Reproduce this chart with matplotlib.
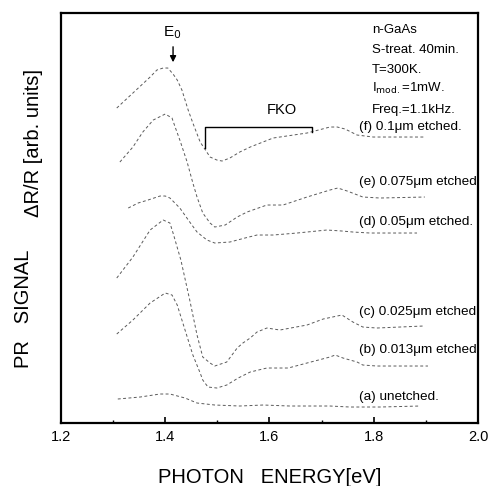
import matplotlib
matplotlib.use("Agg")
import matplotlib.pyplot as plt
import matplotlib.ticker as mticker

plt.rcParams['font.family'] = ['Liberation Sans', 'DejaVu Sans']

# PR spectra, photon energy [eV] vs signal [arb. units], offset per sample
energy_f = [1.307, 1.338, 1.371, 1.384, 1.396, 1.405, 1.415, 1.423, 1.432, 1.444, 1.453, 1.467, 1.486,
            1.499, 1.509, 1.524, 1.543, 1.563, 1.607, 1.672, 1.716, 1.730, 1.745, 1.768, 1.799, 1.850, 1.898]
signal_f = [31.5, 33.0, 34.6, 35.3, 35.5, 35.5, 34.9, 34.3, 33.3, 31.3, 30.0, 28.1, 26.6,
            26.3, 26.2, 26.5, 27.1, 27.6, 28.5, 29.0, 29.6, 29.6, 29.4, 28.8, 28.6, 28.6, 28.6]

energy_e = [1.313, 1.338, 1.357, 1.377, 1.400, 1.413, 1.419, 1.428, 1.442, 1.453, 1.461, 1.472, 1.486,
            1.495, 1.515, 1.538, 1.557, 1.595, 1.626, 1.672, 1.716, 1.731, 1.749, 1.779, 1.812, 1.898]
signal_e = [26.1, 27.6, 29.1, 30.3, 30.9, 30.5, 29.6, 28.3, 26.1, 24.0, 22.6, 21.0, 20.0,
            19.6, 19.8, 20.6, 21.1, 21.8, 21.8, 22.6, 23.3, 23.5, 23.2, 22.6, 22.5, 22.6]

energy_d = [1.329, 1.348, 1.367, 1.390, 1.400, 1.409, 1.428, 1.447, 1.461, 1.480, 1.495, 1.524, 1.553,
            1.576, 1.607, 1.653, 1.710, 1.739, 1.760, 1.793, 1.883]
signal_d = [21.5, 22.0, 22.3, 22.7, 22.7, 22.5, 21.5, 20.1, 19.1, 18.3, 18.0, 18.1, 18.5,
            18.8, 18.8, 19.0, 19.3, 19.2, 19.1, 19.0, 19.0]

energy_c = [1.307, 1.338, 1.371, 1.396, 1.409, 1.415, 1.430, 1.447, 1.461, 1.472, 1.486, 1.495, 1.518,
            1.538, 1.549, 1.563, 1.576, 1.595, 1.620, 1.672, 1.703, 1.739, 1.760, 1.779, 1.806, 1.895]
signal_c = [14.5, 16.6, 19.3, 20.3, 20.0, 19.0, 16.3, 12.3, 8.8, 6.6, 6.0, 5.7, 6.1,
            7.5, 8.0, 8.5, 9.1, 9.5, 9.3, 9.8, 10.4, 10.8, 10.1, 9.6, 9.5, 9.7]

energy_b = [1.307, 1.338, 1.371, 1.400, 1.413, 1.423, 1.438, 1.453, 1.467, 1.472, 1.482, 1.499, 1.518,
            1.540, 1.563, 1.595, 1.636, 1.672, 1.716, 1.726, 1.741, 1.768, 1.779, 1.806, 1.904]
signal_b = [8.9, 10.3, 12.0, 13.0, 12.8, 11.8, 9.3, 6.8, 5.0, 4.3, 3.6, 3.5, 3.8,
            4.5, 5.1, 5.5, 5.5, 6.0, 6.6, 6.8, 6.5, 6.1, 5.8, 5.7, 5.7]

energy_a = [1.309, 1.352, 1.390, 1.409, 1.438, 1.461, 1.495, 1.543, 1.588, 1.639, 1.716, 1.754, 1.812, 1.889]
signal_a = [2.4, 2.6, 2.9, 2.9, 2.5, 2.0, 1.8, 1.7, 1.8, 1.7, 1.7, 1.6, 1.6, 1.7]

curves = [(energy_f, signal_f), (energy_e, signal_e), (energy_d, signal_d),
          (energy_c, signal_c), (energy_b, signal_b), (energy_a, signal_a)]

labels = ["(f) 0.1\u03bcm etched.", "(e) 0.075\u03bcm etched", "(d) 0.05\u03bcm etched.",
          "(c) 0.025\u03bcm etched", "(b) 0.013\u03bcm etched", "(a) unetched."]
label_y = [29.6, 24.1, 20.1, 11.1, 7.3, 2.6]

fig = plt.figure(figsize=(4.89, 4.86), dpi=100)
ax = fig.add_axes([0.1247, 0.1296, 0.8528, 0.8436])

for en, sig in curves:
    ax.plot(en, sig, color='#5a5a5a', lw=0.7, linestyle=(0, (3, 2.5)))

for lab, ly in zip(labels, label_y):
    ax.text(1.771, ly, lab, fontsize=9.7, va='center', ha='left')

# sample / measurement conditions
info = ["n-GaAs", "S-treat. 40min.", "T=300K.", "I$_{\\mathrm{mod.}}$=1mW.", "Freq.=1.1kHz."]
info_y = [39.3, 37.3, 35.3, 33.5, 31.3]
for txt, iy in zip(info, info_y):
    ax.text(1.797, iy, txt, fontsize=9.5, va='center', ha='left')

# E0 marker
ax.text(1.413, 39.0, "E$_0$", fontsize=11, ha='center', va='center')
ax.annotate("", xy=(1.415, 35.8), xytext=(1.415, 37.9),
            arrowprops=dict(arrowstyle='-|>', color='black', lw=1.0, mutation_scale=9))

# FKO bracket
ax.plot([1.476, 1.476, 1.682, 1.682], [27.5, 29.6, 29.6, 29.1], color='black', lw=1.0)
ax.text(1.624, 31.3, "FKO", fontsize=10.5, ha='center', va='center')

ax.set_xlim(1.2, 2.0)
ax.set_ylim(0, 41)
ax.set_yticks([])
ax.xaxis.set_major_locator(mticker.MultipleLocator(0.2))
ax.xaxis.set_minor_locator(mticker.MultipleLocator(0.1))
ax.xaxis.set_major_formatter(mticker.FormatStrFormatter('%.1f'))
ax.tick_params(axis='x', which='major', direction='in', length=4, width=1.2, labelsize=10.5, pad=5)
ax.tick_params(axis='x', which='minor', direction='in', length=2.5, width=1.0)
for s in ax.spines.values():
    s.set_linewidth(1.6)

ax.set_xlabel("PHOTON   ENERGY[eV]", fontsize=14.5, labelpad=17)
fig.text(0.049, 0.364, "PR   SIGNAL", rotation=90, fontsize=14.5, ha='center', va='center')
fig.text(0.068, 0.705, "\u0394R/R [arb. units]", rotation=90, fontsize=14.5, ha='center', va='center')

fig.savefig("out.png", dpi=100)
